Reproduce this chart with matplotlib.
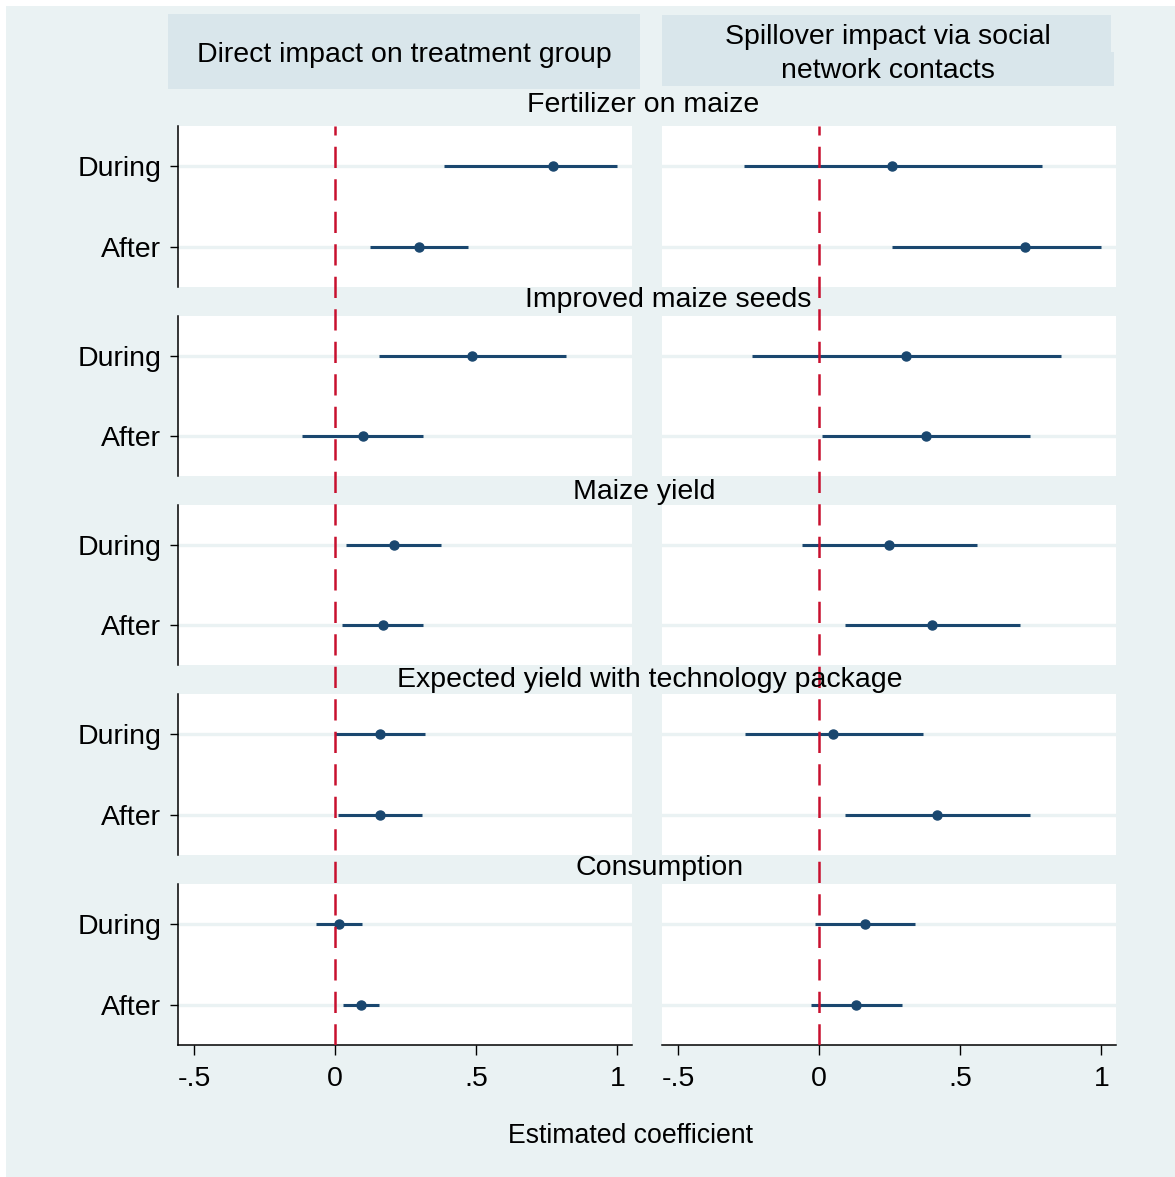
import numpy as np
import matplotlib
matplotlib.use("Agg")
import matplotlib.pyplot as plt
from matplotlib.patches import Rectangle

plt.rcParams['font.family'] = ['Liberation Sans', 'DejaVu Sans']

# --- Data ---
outcomes = ['Fertilizer on maize', 'Improved maize seeds', 'Maize yield',
            'Expected yield with technology package', 'Consumption']
periods = ['During', 'After']
col_titles = ['Direct impact on treatment group',
              'Spillover impact via social\nnetwork contacts']
x_label = 'Estimated coefficient'
x_ticks = [-0.5, 0, 0.5, 1]
x_tick_labels = ['-.5', '0', '.5', '1']

# point estimates [outcome][period]
direct_coef = [[0.773, 0.298], [0.486, 0.099], [0.209, 0.170], [0.160, 0.160], [0.012, 0.090]]
direct_lo = [[0.387, 0.124], [0.156, -0.117], [0.039, 0.025], [0.000, 0.011], [-0.068, 0.026]]
direct_hi = [[1.000, 0.472], [0.819, 0.312], [0.376, 0.312], [0.319, 0.309], [0.095, 0.157]]

spill_coef = [[0.259, 0.730], [0.309, 0.379], [0.248, 0.401], [0.050, 0.418], [0.161, 0.131]]
spill_lo = [[-0.266, 0.259], [-0.238, 0.011], [-0.060, 0.092], [-0.262, 0.092], [-0.013, -0.028]]
spill_hi = [[0.791, 1.000], [0.858, 0.748], [0.560, 0.713], [0.369, 0.748], [0.340, 0.292]]

# --- Styling ---
BG = '#EAF2F3'
BOX = '#D9E6EB'
NAVY = '#1A476F'
RED = '#C8102E'
FS = 20.5

W, H = 1175, 1177
fig = plt.figure(figsize=(W / 100, H / 100), dpi=100)
fig.patch.set_facecolor('white')
fig.patches.append(Rectangle((6 / W, 0), 1, 1 - 6 / H, transform=fig.transFigure,
                             facecolor=BG, edgecolor='none', zorder=-10))

def fx(px):
    return px / W

def fy(py):
    return 1 - py / H

col_x = [(178, 632), (662, 1116)]
row_y = [(126, 287), (316, 476), (505, 665), (694, 855), (884, 1045)]
xlim = (-0.557, 1.052)

data = [(direct_coef, direct_lo, direct_hi), (spill_coef, spill_lo, spill_hi)]
ypos = np.arange(1, len(periods) + 1)

for c, (x0, x1) in enumerate(col_x):
    coef, lo, hi = data[c]
    for r, (y0, y1) in enumerate(row_y):
        ax = fig.add_axes([fx(x0), fy(y1), fx(x1) - fx(x0), fy(y0) - fy(y1)])
        ax.set_facecolor('white')
        ax.set_xlim(*xlim)
        ax.set_ylim(2.5, 0.5)
        for yy in ypos:
            ax.axhline(yy, color=BG, lw=2.4, zorder=1)
        ax.hlines(ypos, lo[r], hi[r], color=NAVY, lw=2.2, zorder=3)
        ax.plot(coef[r], ypos, 'o', color=NAVY, ms=6.5, zorder=4)
        for s in ax.spines.values():
            s.set_visible(False)
        if c == 0:
            ax.spines['left'].set_visible(True)
            ax.spines['left'].set_linewidth(1.1)
            ax.set_yticks(ypos)
            ax.set_yticklabels(periods, fontsize=FS)
            ax.tick_params(axis='y', length=6, width=1.0, pad=6)
        else:
            ax.set_yticks([])
        if r == len(row_y) - 1:
            ax.spines['bottom'].set_visible(True)
            ax.spines['bottom'].set_linewidth(1.1)
            ax.set_xticks(x_ticks)
            ax.set_xticklabels(x_tick_labels, fontsize=FS)
            ax.tick_params(axis='x', length=7, width=1.0, pad=8)
        else:
            ax.set_xticks([])

    # continuous zero reference line across all rows
    ov = fig.add_axes([fx(x0), fy(row_y[-1][1]), fx(x1) - fx(x0), fy(row_y[0][0]) - fy(row_y[-1][1])])
    ov.set_xlim(*xlim)
    ov.set_ylim(0, 1)
    ov.axis('off')
    ov.patch.set_alpha(0)
    ov.axvline(0, color=RED, lw=1.8, dashes=(8.5, 4.5), zorder=5)

# row titles in the gaps
title_y = [105, 300, 492, 680, 868]
title_x = [643, 668, 644, 650, 660]
for t, tx, ty in zip(outcomes, title_x, title_y):
    fig.text(fx(tx), fy(ty), t, ha='center', va='center', fontsize=FS)

# column header boxes
fig.patches.append(Rectangle((fx(168), fy(89)), fx(640) - fx(168), fy(14) - fy(89),
                             transform=fig.transFigure, facecolor=BOX, edgecolor='none'))
fig.patches.append(Rectangle((fx(662), fy(52)), fx(1111) - fx(662), fy(15) - fy(52),
                             transform=fig.transFigure, facecolor=BOX, edgecolor='none'))
fig.patches.append(Rectangle((fx(662), fy(86)), fx(1114) - fx(662), fy(52) - fy(86),
                             transform=fig.transFigure, facecolor=BOX, edgecolor='none'))
fig.text(fx(404), fy(55), col_titles[0], ha='center', va='center', fontsize=FS)
fig.text(fx(888), fy(54), col_titles[1], ha='center', va='center', fontsize=FS,
         linespacing=1.4)

fig.text(fx(630), fy(1136), x_label, ha='center', va='center', fontsize=19.2)

fig.savefig('out.png', dpi=100, facecolor=fig.get_facecolor())
